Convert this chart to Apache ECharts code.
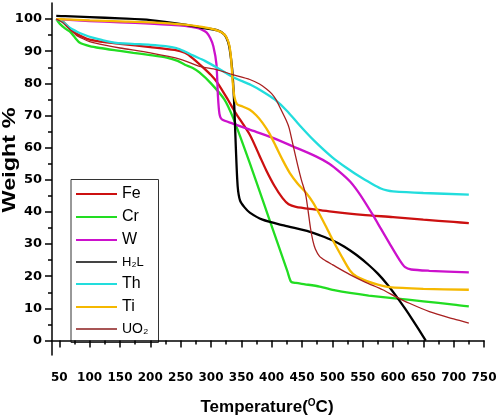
<!DOCTYPE html>
<html>
<head>
<meta charset="utf-8">
<script src="https://cdn.jsdelivr.net/npm/echarts@6/dist/echarts.min.js"></script>
<style>html,body{margin:0;padding:0;background:#fff;}#c{width:500px;height:419px;}</style>
</head>
<body>
<div id="c"></div>
<script>
const xMajor = [50,100,150,200,250,300,350,400,450,500,550,600,650,700,750];
const xMinor = [75,125,175,225,275,325,375,425,475,525,575,625,675,725];
const yMajor = [0,10,20,30,40,50,60,70,80,90,100];
const yMinor = [5,15,25,35,45,55,65,75,85,95];

const names = ['Fe','Cr','W','H₂L','Th','Ti','UO₂'];

const fe = [[45,100],[55,99.3],[65,97.5],[78,95.5],[90,94.3],[100,93.6],[125,92.8],[150,92.3],[200,91.3],[240,90.4],[257,89.5],[270,87.8],[285,85.3],[300,82.6],[311,80.1],[328,74.9],[340,71],[364,64],[380,57.5],[391,53],[405,48],[418,44.3],[428,42.4],[440,41.6],[470,40.8],[495,40.2],[550,39.1],[600,38.4],[650,37.6],[700,36.9],[725,36.5]];
const cr = [[45,100],[51,98.5],[60,97],[68,96],[76,94.2],[84,92.6],[100,91.6],[117,91],[150,90.1],[172,89.5],[200,88.8],[227,88],[245,87],[257,85.8],[270,84.8],[281,83.4],[300,80],[322,75],[336,69.5],[350,62.5],[364,55.2],[385,43.8],[410,30.2],[426,21.5],[432,18.3],[440,17.9],[455,17.5],[479,16.8],[505,15.6],[529,14.8],[560,14],[599,13.2],[650,12.2],[700,11.2],[725,10.6]];
const w = [[45,100],[60,99.8],[100,99.4],[150,99],[200,98.6],[257,97.9],[275,97.3],[285,96.7],[293,95.8],[299,94],[304,91.5],[309,86],[311.5,76],[314,70.5],[318,68.8],[336,67.5],[364,65.6],[400,63.2],[435,60.4],[473,57.3],[495,55],[513,52.3],[530,49.3],[546,45.3],[566,39.3],[580,34.8],[594,30.3],[610,25.3],[620,22.8],[630,22.1],[660,21.7],[725,21.2]];
const h2l = [[45,101],[60,100.9],[100,100.6],[150,100.2],[200,99.7],[257,98.3],[285,97.3],[311,96.5],[322,95.2],[328,93],[331,90.5],[335,84.3],[338,74.9],[341,60],[344,48],[348,43.5],[355,41.5],[364,39.8],[385,37.6],[420,35.8],[462,33.9],[480,32.7],[500,31.2],[520,29.2],[540,26.6],[560,23.5],[575,20.8],[590,17.6],[605,13.9],[620,9.9],[632,6.5],[654,0]];
const th = [[45,100],[55,99.2],[68,97.2],[80,96],[90,95.2],[105,94.2],[120,93.5],[144,92.6],[170,92.3],[200,92],[225,91.6],[243,91],[256,90],[270,88.7],[290,87],[311,84.8],[336,82],[366,79.5],[385,77.5],[405,75],[425,71.5],[446,67],[470,62.2],[500,57],[525,53.5],[545,51],[565,48.8],[580,47.3],[590,46.7],[600,46.4],[650,45.9],[725,45.4]];
const ti = [[45,100],[60,99.9],[100,99.6],[150,99.3],[200,99],[257,98.3],[285,97.6],[305,96.8],[318,95.8],[325,94.5],[330,92],[333,88],[336,80],[339,75.5],[343,73.5],[352,72.8],[364,71.8],[375,70],[385,67.7],[396,64.5],[407,60.4],[418,56.2],[430,52.1],[443,48.8],[457,45.9],[468,43],[479,39.3],[490,35.3],[500,31.5],[515,26.3],[529,21.8],[540,19.9],[557,18.5],[575,17.4],[594,16.6],[650,16.1],[725,15.8]];
const uo2 = [[45,100],[55,99],[65,97.2],[78,95],[90,93.8],[100,93],[125,91.9],[150,91],[200,89.5],[250,87.5],[281,85.3],[309,84.3],[336,82.7],[364,81.2],[380,79.8],[391,78.3],[400,76.8],[407,75],[415,72],[424,68.5],[429,66],[435,61],[443,54.5],[449,50],[456,45.5],[460,40.5],[464,35],[468,31],[472,28.5],[479,26.2],[490,24.7],[500,23.6],[529,20.5],[555,18.1],[583,15.8],[605,13.6],[627,11.6],[660,9],[700,6.7],[725,5.4]];

const seriesData = [fe, cr, w, h2l, th, ti, uo2];
const colors = ['#cc1010','#22dd22','#cc11cc','#000000','#22dddd','#f5b800','#a82020'];
const legendColors = ['#cc1010','#22dd22','#cc11cc','#444444','#22dddd','#f5b800','#a85555'];
const legendSizes = [16,16,16,13,16,16,14];
const widths = [2.3,2.3,2.3,2.3,2.3,2.3,1.3];

const font = 'Liberation Sans, Arial, sans-serif';
const numFont = 'DejaVu Sans, sans-serif';

const chart = echarts.init(document.getElementById('c'), null, {renderer:'canvas'});
const axisBase = {type:'value', splitLine:{show:false}};
chart.setOption({
  backgroundColor:'#ffffff',
  animation:false,
  grid:{left:52, right:16, top:3, bottom:64, containLabel:false},
  xAxis:[
    Object.assign({}, axisBase, {min:38, max:750, position:'bottom',
      axisLine:{show:true, lineStyle:{color:'#000', width:1.5}},
      axisTick:{show:true, customValues:xMajor, length:7, lineStyle:{color:'#000', width:1.5}},
      axisLabel:{show:true, customValues:xMajor, margin:17, color:'#000', fontFamily:numFont, fontWeight:'bold', fontSize:12}}),
    Object.assign({}, axisBase, {min:38, max:750, position:'bottom',
      axisLine:{show:false},
      axisTick:{show:true, customValues:xMinor, length:4, lineStyle:{color:'#000', width:1.5}},
      axisLabel:{show:false}})
  ],
  yAxis:[
    Object.assign({}, axisBase, {min:-4.5, max:105, position:'left',
      axisLine:{show:true, lineStyle:{color:'#000', width:1.5}},
      axisTick:{show:true, customValues:yMajor, length:7, lineStyle:{color:'#000', width:1.5}},
      axisLabel:{show:true, customValues:yMajor, margin:10, color:'#000', fontFamily:numFont, fontWeight:'bold', fontSize:13}}),
    Object.assign({}, axisBase, {min:-4.5, max:105, position:'left',
      axisLine:{show:false},
      axisTick:{show:true, customValues:yMinor, length:4, lineStyle:{color:'#000', width:1.5}},
      axisLabel:{show:false}})
  ],
  legend:{
    data:names.map((n,i)=>({name:n, itemStyle:{color:legendColors[i]}, textStyle:{fontSize:legendSizes[i], lineHeight:14}})),
    orient:'vertical', left:76, top:186, padding:0, icon:'rect',
    itemWidth:41, itemHeight:2, itemGap:7,
    textStyle:{fontFamily:font, fontSize:16, color:'#000', lineHeight:14}
  },
  graphic:[
    {type:'rect', left:70.5, top:179, z:-1, shape:{width:87.5, height:163}, style:{fill:'#fff', stroke:'#333', lineWidth:1}},
    {type:'text', x:10, y:160, rotation:Math.PI/2, scaleX:1.3, style:{text:'Weight %', font:'bold 18px ' + font, fill:'#000', align:'center', verticalAlign:'middle'}},
    {type:'text', x:267, y:407, style:{text:'{a|Temperature(}{s|O}{a|C)}', align:'center', verticalAlign:'middle', fill:'#000',
      rich:{a:{fontFamily:font, fontWeight:'bold', fontSize:17, verticalAlign:'bottom'}, s:{fontFamily:font, fontWeight:'bold', fontSize:10, verticalAlign:'top'}}}}
  ],
  series: names.map((n,i)=>({
    name:n, type:'line', xAxisIndex:0, yAxisIndex:0, data:seriesData[i],
    symbol:'none', showSymbol:false, smooth:0.25,
    lineStyle:{color:colors[i], width:widths[i]}, itemStyle:{color:colors[i]}
  }))
});
</script>
</body>
</html>
